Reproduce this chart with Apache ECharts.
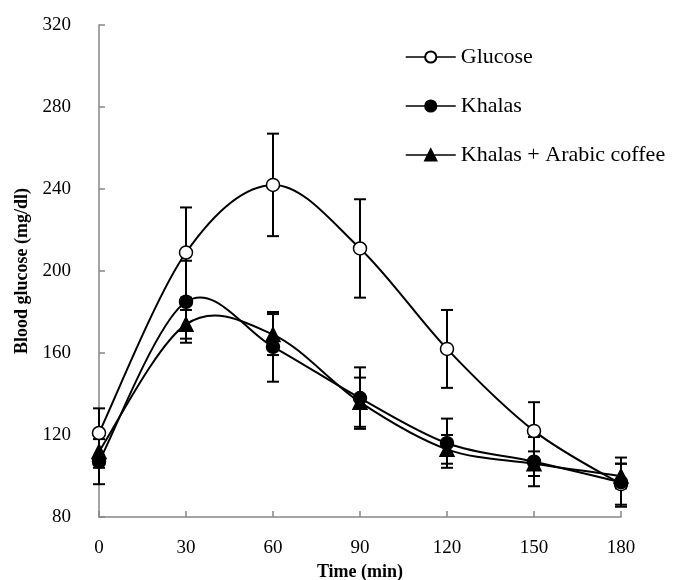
<!DOCTYPE html>
<html>
<head>
<meta charset="utf-8">
<script src="https://cdn.jsdelivr.net/npm/echarts@6/dist/echarts.min.js"></script>
<style>
  html, body { margin: 0; padding: 0; background: #fff; }
  #container { width: 683px; height: 580px; }
</style>
</head>
<body>
<div id="container"></div>
<script>
// time points (min)
const times = [0, 30, 60, 90, 120, 150, 180];

// blood glucose means and error (mg/dl)
const glucose    = [121, 209, 242, 211, 162, 122, 96];
const glucoseErr = [12, 22, 25, 24, 19, 14, 10];
const khalas     = [107, 185, 163, 138, 116, 107, 97];
const khalasErr  = [11, 20, 17, 15, 12, 12, 12];
const coffee     = [112, 174, 169, 136, 113, 106, 100];
const coffeeErr  = [8, 7, 10, 12, 7, 6, 6];

const seriesNames = ['Glucose', 'Khalas', 'Khalas + Arabic coffee'];

const font = 'Liberation Serif';

function pairs(vals) {
    return times.map((t, i) => [t, vals[i]]);
}

function errData(vals, errs) {
    return times.map((t, i) => [t, vals[i] - errs[i], vals[i] + errs[i]]);
}

function renderErr(params, api) {
    let top = api.coord([api.value(0), api.value(2)]);
    let bot = api.coord([api.value(0), api.value(1)]);
    let half = 6;
    let style = { stroke: '#000', lineWidth: 2 };
    return {
        type: 'group',
        children: [
            { type: 'line', shape: { x1: top[0], y1: top[1], x2: bot[0], y2: bot[1] }, style: style },
            { type: 'line', shape: { x1: top[0] - half, y1: top[1], x2: top[0] + half, y2: top[1] }, style: style },
            { type: 'line', shape: { x1: bot[0] - half, y1: bot[1], x2: bot[0] + half, y2: bot[1] }, style: style }
        ]
    };
}

// smoothed curve like the spreadsheet one: each item draws the piece to the next point
function curveSeries(vals) {
    return {
        type: 'custom',
        data: pairs(vals),
        z: 2,
        silent: true,
        renderItem: function (params, api) {
            let i = params.dataIndex;
            let n = times.length;
            if (i >= n - 1) return null;
            let p = (k) => api.coord([times[Math.max(0, Math.min(n - 1, k))], vals[Math.max(0, Math.min(n - 1, k))]]);
            let p0 = p(i - 1), p1 = p(i), p2 = p(i + 1), p3 = p(i + 2);
            let c1 = [p1[0] + (p2[0] - p0[0]) / 6, p1[1] + (p2[1] - p0[1]) / 6];
            let c2 = [p2[0] - (p3[0] - p1[0]) / 6, p2[1] - (p3[1] - p1[1]) / 6];
            return {
                type: 'bezierCurve',
                shape: { x1: p1[0], y1: p1[1], x2: p2[0], y2: p2[1], cpx1: c1[0], cpy1: c1[1], cpx2: c2[0], cpy2: c2[1] },
                style: { stroke: '#000', lineWidth: 2, fill: null }
            };
        },
        encode: { x: 0, y: 1 }
    };
}

function markerSeries(name, vals, symbol, fill) {
    return {
        name: name,
        type: 'line',
        data: pairs(vals),
        symbol: symbol,
        symbolSize: symbol === 'triangle' ? 14 : 13,
        showSymbol: true,
        z: 4,
        lineStyle: { color: '#000', width: 2, opacity: 0 },
        itemStyle: { color: fill, borderColor: '#000', borderWidth: 1.5 },
        emphasis: { disabled: true }
    };
}

function errSeries(vals, errs) {
    return {
        type: 'custom',
        data: errData(vals, errs),
        renderItem: renderErr,
        z: 1,
        silent: true,
        encode: { x: 0, y: [1, 2] }
    };
}

let chart = echarts.init(document.getElementById('container'));

chart.setOption({
    animation: false,
    textStyle: { fontFamily: font },
    grid: { left: 99, right: 62, top: 25, bottom: 63, containLabel: false, outerBoundsMode: 'none' },
    legend: {
        orient: 'vertical',
        left: 400,
        top: 41,
        itemWidth: 50,
        itemHeight: 14,
        itemGap: 27,
        data: seriesNames,
        lineStyle: { color: '#000', width: 1.5, opacity: 1 },
        textStyle: { fontFamily: font, fontSize: 22, color: '#000' },
        inactiveColor: '#000'
    },
    xAxis: {
        type: 'value',
        min: 0,
        max: 180,
        interval: 30,
        name: 'Time (min)',
        nameLocation: 'middle',
        nameGap: 40,
        nameTextStyle: { fontFamily: font, fontWeight: 'bold', fontSize: 18, color: '#000' },
        axisLine: { lineStyle: { color: '#868686', width: 1.5 } },
        axisTick: { inside: true, length: 6, lineStyle: { color: '#868686', width: 1.5 } },
        axisLabel: { fontFamily: font, fontSize: 19, color: '#000', margin: 22 },
        splitLine: { show: false }
    },
    yAxis: {
        type: 'value',
        min: 80,
        max: 320,
        interval: 40,
        name: 'Blood glucose (mg/dl)',
        nameLocation: 'middle',
        nameGap: 68,
        nameTextStyle: { fontFamily: font, fontWeight: 'bold', fontSize: 18, color: '#000' },
        axisLine: { show: true, lineStyle: { color: '#868686', width: 1.5 } },
        axisTick: { show: true, inside: true, length: 6, lineStyle: { color: '#868686', width: 1.5 } },
        axisLabel: { fontFamily: font, fontSize: 19, color: '#000', margin: 28 },
        splitLine: { show: false }
    },
    series: [
        errSeries(glucose, glucoseErr),
        errSeries(khalas, khalasErr),
        errSeries(coffee, coffeeErr),
        curveSeries(glucose),
        curveSeries(khalas),
        curveSeries(coffee),
        markerSeries(seriesNames[0], glucose, 'circle', '#fff'),
        markerSeries(seriesNames[1], khalas, 'circle', '#000'),
        markerSeries(seriesNames[2], coffee, 'triangle', '#000')
    ]
});
</script>
</body>
</html>
